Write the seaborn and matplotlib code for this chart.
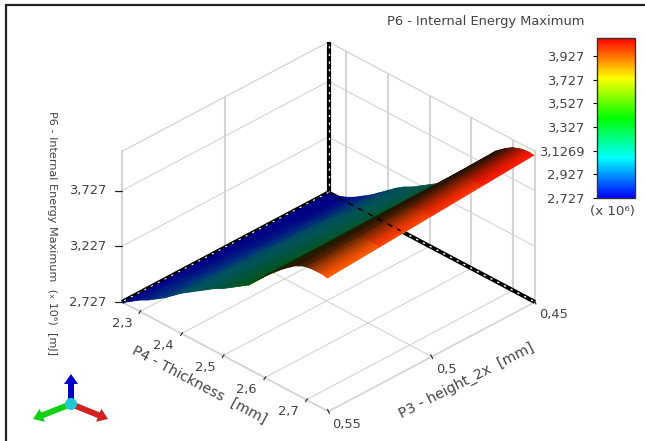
import matplotlib
matplotlib.use("Agg")
import matplotlib.pyplot as plt
import numpy as np
import seaborn as sns
from matplotlib.cm import ScalarMappable
from matplotlib.colors import Normalize
from matplotlib.patches import Circle, FancyArrow
from mpl_toolkits.mplot3d import proj3d

# values
p4_values = [2.26, 2.28, 2.30, 2.32, 2.34, 2.36, 2.38, 2.40, 2.42, 2.44, 2.46, 2.48, 2.50,
             2.52, 2.54, 2.56, 2.58, 2.60, 2.62, 2.64, 2.66, 2.67, 2.68, 2.69, 2.70,
             2.705, 2.71, 2.715, 2.72, 2.725, 2.73, 2.735, 2.74, 2.745, 2.75]
p3_values = [0.45, 0.475, 0.50, 0.525, 0.55]

energy_p3_045 = [2.73, 2.74, 2.77, 2.81, 2.86, 2.91, 2.97, 3.03, 3.09, 3.14, 3.18, 3.23, 3.28,
                 3.33, 3.38, 3.47, 3.56, 3.65, 3.73, 3.81, 3.90, 3.93, 3.96, 3.985, 4.01,
                 4.015, 4.02, 4.03, 4.035, 4.04, 4.04, 4.045, 4.045, 4.04, 4.04]
energy_p3_0475 = [2.73, 2.75, 2.785, 2.825, 2.875, 2.925, 2.985, 3.045, 3.10, 3.15, 3.195, 3.245, 3.29,
                  3.34, 3.39, 3.47, 3.56, 3.65, 3.725, 3.80, 3.885, 3.915, 3.94, 3.965, 3.99,
                  3.99, 3.995, 4.005, 4.01, 4.01, 4.01, 4.015, 4.015, 4.01, 4.01]
energy_p3_050 = [2.73, 2.76, 2.80, 2.84, 2.89, 2.94, 3.00, 3.06, 3.115, 3.165, 3.21, 3.26, 3.305,
                 3.355, 3.405, 3.475, 3.56, 3.645, 3.72, 3.795, 3.87, 3.90, 3.925, 3.945, 3.965,
                 3.97, 3.97, 3.98, 3.98, 3.985, 3.985, 3.99, 3.99, 3.98, 3.98]
energy_p3_0525 = [2.73, 2.77, 2.815, 2.855, 2.905, 2.955, 3.015, 3.075, 3.13, 3.18, 3.225, 3.275, 3.32,
                  3.37, 3.42, 3.48, 3.56, 3.64, 3.715, 3.79, 3.855, 3.885, 3.91, 3.93, 3.94,
                  3.95, 3.95, 3.955, 3.955, 3.96, 3.96, 3.96, 3.96, 3.95, 3.95]
energy_p3_055 = [2.73, 2.78, 2.83, 2.87, 2.92, 2.97, 3.03, 3.09, 3.14, 3.19, 3.24, 3.29, 3.33,
                 3.38, 3.43, 3.48, 3.56, 3.64, 3.71, 3.78, 3.84, 3.87, 3.89, 3.91, 3.92,
                 3.925, 3.925, 3.93, 3.93, 3.93, 3.93, 3.93, 3.93, 3.925, 3.92]
# how much light each strip along P4 gets
light = [0.52, 0.52, 0.50, 0.50, 0.48, 0.45, 0.42, 0.38, 0.35, 0.33, 0.33, 0.33, 0.33,
         0.33, 0.33, 0.30, 0.22, 0.14, 0.12, 0.14, 0.14, 0.17, 0.22, 0.30, 0.40,
         0.47, 0.54, 0.61, 0.68, 0.75, 0.82, 0.88, 0.94, 0.98, 1.0]

p4_ticks = [2.3, 2.4, 2.5, 2.6, 2.7]
p3_ticks = [0.45, 0.5, 0.55]
energy_ticks = [2.727, 3.227, 3.727]
cbar_ticks = [2.727, 2.927, 3.1269, 3.327, 3.527, 3.727, 3.927]

P4_MIN, P4_MAX = 2.257, 2.753
P3_MIN, P3_MAX = 0.45, 0.55
E_MIN, E_MAX = 2.727, 4.08
TXT = "#444444"
GRID = "#d4d4d4"


def comma(v):
    return f"{v:g}".replace(".", ",")


sns.set_theme(style="white")
plt.rcParams["font.family"] = "DejaVu Sans"
plt.rcParams["text.color"] = TXT

cmap = sns.blend_palette(["#0000ff", "#00ffff", "#00ff00", "#ffff00", "#ff0000"], n_colors=256, as_cmap=True)
norm = Normalize(E_MIN, E_MAX)

fig = plt.figure(figsize=(6.45, 4.41), dpi=100, facecolor="white")
ax = fig.add_axes([0, 0, 1, 1], projection="3d", proj_type="ortho", computed_zorder=False)
ax.patch.set_alpha(0)
ax.view_init(elev=32, azim=45)
ax.set_box_aspect((1, 1, 0.608))
ax.set_xlim(P3_MIN, P3_MAX, view_margin=0)
ax.set_ylim(P4_MIN, P4_MAX, view_margin=0)
ax.set_zlim(E_MIN, E_MAX, view_margin=0)

# move the axes so the floor corners land where they are in the reference
fig.canvas.draw()


def to_px(x, y, z):
    X, Y, _ = proj3d.proj_transform(x, y, z, ax.get_proj())
    px, py = ax.transData.transform((X, Y))
    return px, 441 - py


left_px = np.array(to_px(P3_MAX, P4_MIN, E_MIN))
right_px = np.array(to_px(P3_MIN, P4_MAX, E_MIN))
k = (535 - 122) / (right_px[0] - left_px[0])
side = 441 * k
mid = (left_px + right_px) / 2
cx = 328.5 - (mid[0] - 322.5) * k
cy = 302 - (mid[1] - 220.5) * k
ax.set_position([(cx - side / 2) / 645, (441 - cy - side / 2) / 441, side / 645, side / 441])

# tick marks and labels are placed by hand below, the axes only keep the grid
ax.set_xticks(p3_ticks, [""] * len(p3_ticks))
ax.set_yticks(p4_ticks, [""] * len(p4_ticks))
ax.set_zticks(energy_ticks, [""] * len(energy_ticks))
for axis in (ax.xaxis, ax.yaxis, ax.zaxis):
    axis.set_pane_color((1, 1, 1, 0))
    axis.line.set_color(GRID)
    axis._axinfo["grid"].update(color=GRID, linewidth=0.8)
    axis._axinfo["tick"].update(inward_factor=0, outward_factor=0)
ax.grid(True)

# top of the walls and the heavier vertical wall lines
ax.plot([P3_MAX, P3_MIN, P3_MIN], [P4_MIN, P4_MIN, P4_MAX], [E_MAX, E_MAX, E_MAX], color=GRID, lw=0.9, zorder=0.5)
for p3 in p3_ticks[1:]:
    ax.plot([p3, p3], [P4_MIN, P4_MIN], [E_MIN, E_MAX], color=GRID, lw=1.5, zorder=0.5)
for p4 in p4_ticks + [P4_MAX]:
    ax.plot([P3_MIN, P3_MIN], [p4, p4], [E_MIN, E_MAX], color=GRID, lw=1.5, zorder=0.5)

# thick edges behind the surface
back_edges = [([P3_MIN, P3_MIN], [P4_MIN, P4_MIN], [E_MIN, E_MAX]),
              ([P3_MIN, P3_MAX], [P4_MIN, P4_MIN], [E_MIN, E_MIN]),
              ([P3_MIN, P3_MIN], [P4_MIN, P4_MAX], [E_MIN, E_MIN])]
for xs, ys, zs in back_edges:
    ax.plot(xs, ys, zs, color="black", lw=3, zorder=1, solid_capstyle="butt")
    ax.plot(xs, ys, zs, color="white", lw=1, ls=(0, (1.5, 4)), zorder=1.1)

P4, P3 = np.meshgrid(p4_values, p3_values)
energy = np.array([energy_p3_045, energy_p3_0475, energy_p3_050, energy_p3_0525, energy_p3_055])
# the low end of the surface stays bluer than the colour bar, the high end follows it
colors = cmap(np.interp(norm(energy), [0, 0.5, 0.7, 1], [0, 0.4, 0.72, 1]))
colors[..., :3] *= np.array(light)[None, :, None]
ax.plot_surface(P3, P4, energy, facecolors=colors, rstride=1, cstride=1, shade=False,
                linewidth=0.6, antialiased=True, zorder=2)

# the hidden edge shows through the surface as dashes
ax.plot([P3_MIN, P3_MIN], [P4_MIN, 2.43], [E_MIN, E_MIN], color="black", lw=1, ls=(0, (4, 4)), zorder=3)

# colour bar
cax = fig.add_axes([597 / 645, (441 - 198) / 441, 38 / 645, 160 / 441])
cbar = fig.colorbar(ScalarMappable(norm, cmap), cax=cax)
cbar.set_ticks(cbar_ticks, labels=[comma(v) for v in cbar_ticks])
cax.yaxis.set_ticks_position("left")
cax.tick_params(labelsize=9.4, labelcolor=TXT, color="black", length=3, width=0.8, pad=6)
cbar.outline.set_edgecolor("#333333")
cbar.outline.set_linewidth(1)

# overlay in pixels: frame, titles, ticks, triad
fig.canvas.draw()
over = fig.add_axes([0, 0, 1, 1], facecolor="none", zorder=5)
over.set_xlim(0, 645)
over.set_ylim(441, 0)
over.axis("off")
over.plot([6, 645], [5, 5], color="#222222", lw=1.6)
over.plot([6, 6], [5, 441], color="#222222", lw=1.6)

for v in energy_ticks:
    px, py = to_px(P3_MAX, P4_MIN, v)
    over.plot([px - 7, px], [py, py], color="#222222", lw=0.9)
    over.text(px - 34, py, comma(v), fontsize=9.4, ha="center", va="center")
for v in p4_ticks:
    px, py = to_px(P3_MAX, v, E_MIN)
    over.plot([px - 1, px + 1], [py + 2, py - 1], color="#222222", lw=0.8)
    over.text(px - 18, py + 12, comma(v), fontsize=9.4, ha="center", va="center")
for v in p3_ticks:
    px, py = to_px(v, P4_MAX, E_MIN)
    over.plot([px - 1, px + 1], [py - 2, py + 2], color="#222222", lw=0.8)
    over.text(px + 4, py + 13, comma(v), fontsize=9.4, ha="left", va="center")

over.text(486, 22, "P6 - Internal Energy Maximum", fontsize=9.4, ha="center", va="center")
over.text(612, 212, "(x 10\u2076)", fontsize=9.6, ha="center", va="center")
over.text(52, 233, "P6 - Internal Energy Maximum  (\u2093 10\u2076)  [mJ]", fontsize=8.1, rotation=-90, ha="center", va="center")
over.text(199, 385, "P4 - Thickness  [mm]", fontsize=10.3, rotation=-28, ha="center", va="center", rotation_mode="anchor")
over.text(467, 381, "P3 - height_2x  [mm]", fontsize=10.3, rotation=27, ha="center", va="center", rotation_mode="anchor")

for dx, dy, col in [(0, -30, "#0000c8"), (-38, 15, "#10d010"), (37, 15, "#d02020")]:
    over.add_patch(FancyArrow(71, 404, dx, dy, width=6, head_width=14, head_length=10,
                              length_includes_head=True, color=col, lw=0))
over.add_patch(Circle((71, 404), 6, color="#20c8d0", lw=0))

fig.savefig("out.png", dpi=100)
